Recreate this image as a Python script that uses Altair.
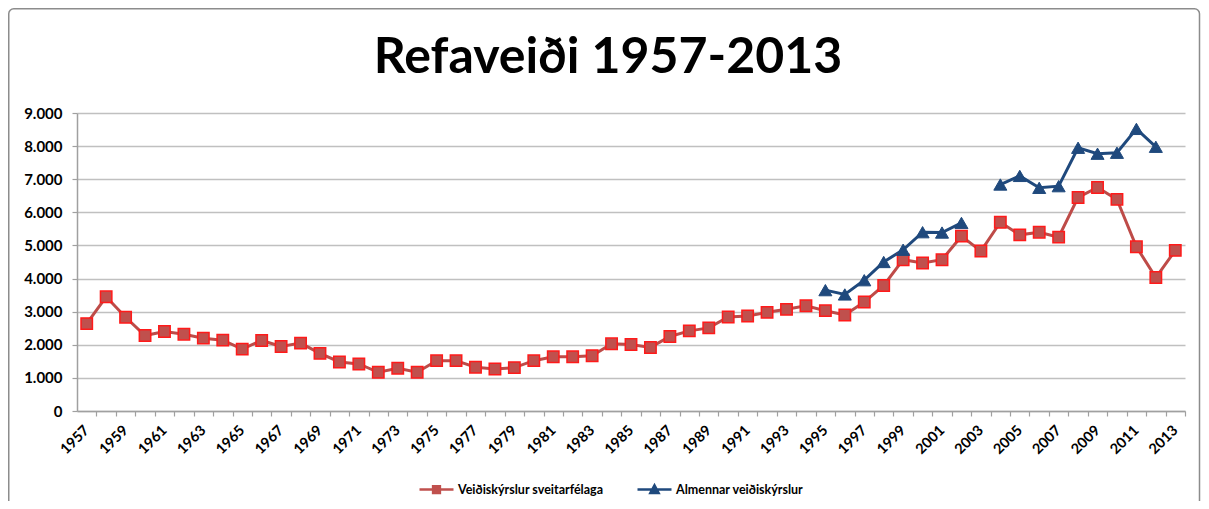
import altair as alt
import pandas as pd

# ---- data ----
years = list(range(1957, 2014))
red_vals = [2640, 3450, 2830, 2280, 2400, 2320, 2200, 2140, 1870, 2130,
            1950, 2050, 1740, 1480, 1420, 1170, 1290, 1170, 1520, 1520,
            1320, 1270, 1310, 1520, 1640, 1640, 1670, 2030, 2010, 1920,
            2250, 2420, 2510, 2840, 2870, 2980, 3070, 3180, 3030, 2900,
            3290, 3790, 4570, 4470, 4570, 5280, 4830, 5700, 5320, 5400,
            5250, 6450, 6750, 6390, 4960, 4030, 4850]
blue_years = list(range(1995, 2014))
blue_vals = [3650, 3520, 3950, 4500, 4870, 5400, 5390, 5680, None, 6840,
             7100, 6740, 6790, 7950, 7770, 7800, 8520, 7980, None]
series_names = ["Veiðiskýrslur sveitarfélaga", "Almennar veiðiskýrslur"]
y_ticks = [0, 1000, 2000, 3000, 4000, 5000, 6000, 7000, 8000, 9000]
title_text = "Refaveiði 1957-2013"

rows = []
for yr, v in zip(years, red_vals):
    rows.append({"year": yr, "value": v, "series": series_names[0], "seg": "r0"})
seg = 0
for yr, v in zip(blue_years, blue_vals):
    if v is None:
        seg += 1
        continue
    rows.append({"year": yr, "value": v, "series": series_names[1], "seg": f"b{seg}"})
df = pd.DataFrame(rows)

# ---- layout ----
W, H = 1108, 298
PAD = {"left": 69, "top": 105, "right": 16, "bottom": 90}
band = W / len(years)
FONT = "Lato"
AXC = "#a0a0a0"

x_enc = alt.X(
    "year:Q",
    scale=alt.Scale(domain=[1956.5, 2013.5], nice=False, zero=False),
    axis=alt.Axis(
        values=years, format="d",
        labelExpr="datum.value % 2 == 1 ? datum.label : ''",
        tickOffset=band / 2, labelOffset=-band / 2,
        labelAngle=315, labelAlign="right", labelBaseline="middle",
        labelOverlap=False, labelFlush=False, labelPadding=12,
        labelFont=FONT, labelFontSize=14.5, labelFontWeight="bold", labelColor="#000",
        grid=False, title=None, tickSize=5, tickColor=AXC, domainColor=AXC,
        domainWidth=1.5, tickWidth=1.2,
    ),
)
y_enc = alt.Y(
    "value:Q",
    scale=alt.Scale(domain=[0, 9000], nice=False),
    axis=alt.Axis(
        values=y_ticks,
        labelExpr="replace(format(datum.value, ','), ',', '.')",
        title=None, grid=True, gridColor="#c0c0c0", gridWidth=1.5,
        domainColor=AXC, domainWidth=1.5, tickColor=AXC, tickSize=5, tickWidth=1.2,
        labelPadding=10, labelFont=FONT, labelFontSize=15, labelFontWeight="bold",
        labelColor="#000",
    ),
)

frame = alt.Chart(alt.Data(values=[{"k": 1}])).mark_rect(
    fillOpacity=0, stroke="#8c8c8c", strokeWidth=1.5, cornerRadius=5
).encode(
    x=alt.value(-PAD["left"] + 0.75), x2=alt.value(W + PAD["right"] - 1.5),
    y=alt.value(-PAD["top"] + 0.75), y2=alt.value(H + PAD["bottom"] + 40),
)

lines = alt.Chart(df).mark_line(strokeWidth=3).encode(
    x=x_enc, y=y_enc,
    color=alt.Color("series:N", scale=alt.Scale(domain=series_names,
                                                range=["#BE4B48", "#1F497D"]), legend=None),
    detail="seg:N",
)

red_pts = alt.Chart(df).transform_filter(
    alt.datum.series == series_names[0]
).mark_point(shape="square", filled=True, fill="#C0504D", stroke="#FF1A1A",
             strokeWidth=1.5, size=130, opacity=1).encode(x=x_enc, y=y_enc)

blue_pts = alt.Chart(df).transform_filter(
    alt.datum.series == series_names[1]
).mark_point(shape="triangle-up", filled=True, fill="#1F497D", stroke="#1F497D",
             strokeWidth=1, size=170, opacity=1).encode(x=x_enc, y=y_enc)

path_sq = "M-1,0H1M-0.2,-0.2H0.2V0.2H-0.2Z"
path_tri = "M-1,0H1M-0.24,0.2L0,-0.24L0.24,0.2Z"
leg = alt.Legend(
    title=None, orient="none", legendX=341, legendY=358, direction="horizontal",
    labelFont=FONT, labelFontWeight="bold", labelFontSize=12.5, labelColor="#000",
    symbolSize=1156, symbolStrokeWidth=2.5, columnPadding=28, labelOffset=3,
    padding=0, symbolOpacity=1,
)
legend_layer = alt.Chart(df).mark_point(
    filled=True, opacity=0
).encode(
    x=x_enc, y=y_enc,
    shape=alt.Shape("series:N", scale=alt.Scale(domain=series_names, range=[path_sq, path_tri]), legend=leg),
    fill=alt.Fill("series:N", scale=alt.Scale(domain=series_names, range=["#C0504D", "#1F497D"]), legend=leg),
    stroke=alt.Stroke("series:N", scale=alt.Scale(domain=series_names, range=["#C0504D", "#1F497D"]), legend=leg),
)

chart = alt.layer(frame, legend_layer, lines, red_pts, blue_pts).properties(
    width=W, height=H,
    title=alt.Title(title_text, font=FONT, fontSize=50, fontWeight="bold", color="#000",
                    anchor="middle", dx=-23, offset=-115, frame="group", baseline="alphabetic"),
    autosize=alt.AutoSizeParams(type="none"),
    padding=PAD,
).configure_view(strokeWidth=0)

chart.save("out.html", embed_options={"renderer": "svg", "actions": False})
